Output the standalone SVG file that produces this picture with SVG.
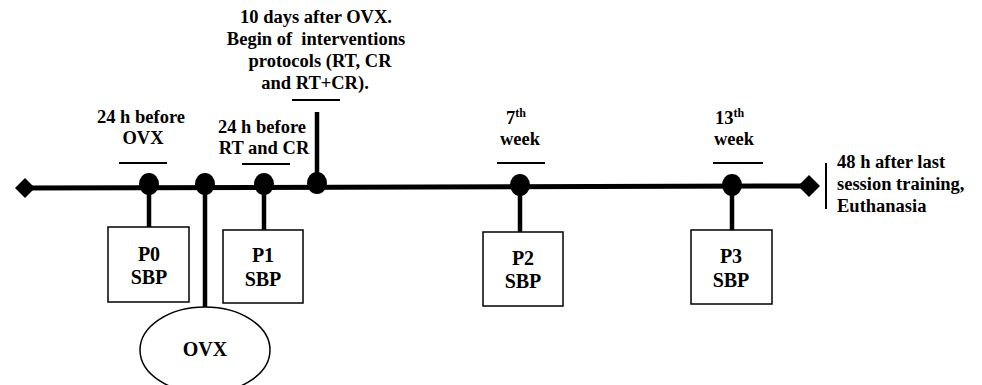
<svg xmlns="http://www.w3.org/2000/svg" width="982" height="385" viewBox="0 0 982 385">
<style>
text{font-family:"Liberation Serif","Times New Roman",serif;font-weight:bold;fill:#000}
.lbl{font-size:18.5px;text-anchor:middle}
.rt{font-size:18.5px}
.box{font-size:20px;text-anchor:middle}
.sup{font-size:12px}
.bar{stroke:#000;stroke-width:2}
.stem{stroke:#000;stroke-width:4.5}
.node{fill:#fff;stroke:#000;stroke-width:1.5}
.dot{fill:#000}
</style>
<rect width="982" height="385" fill="#fff"/>
<g id="connectors">
  <line x1="25" y1="188" x2="808" y2="186" stroke="#000" stroke-width="5"/>
  <polygon points="15,188 25,178 35,188 25,198" fill="#000"/>
  <polygon points="798,186 809,175 820,186 809,197" fill="#000"/>
  <line class="stem" x1="149" y1="184" x2="149" y2="227"/>
  <line class="stem" x1="205" y1="184" x2="205" y2="308"/>
  <line class="stem" x1="264" y1="184" x2="264" y2="230"/>
  <line class="stem" x1="317" y1="112" x2="317" y2="183"/>
  <line class="stem" x1="520" y1="185" x2="520" y2="232"/>
  <line class="stem" x1="732" y1="185" x2="732" y2="230"/>
  <ellipse class="dot" cx="149" cy="184" rx="10" ry="11"/>
  <ellipse class="dot" cx="205" cy="184" rx="10" ry="11"/>
  <ellipse class="dot" cx="264" cy="184" rx="10" ry="11"/>
  <ellipse class="dot" cx="317" cy="183" rx="10" ry="11"/>
  <ellipse class="dot" cx="520" cy="185" rx="10" ry="11"/>
  <ellipse class="dot" cx="732" cy="185" rx="10" ry="11"/>
  <line class="bar" x1="119" y1="163" x2="167" y2="163"/>
  <line class="bar" x1="242" y1="164" x2="290" y2="164"/>
  <line class="bar" x1="292" y1="100" x2="340" y2="100"/>
  <line class="bar" x1="497" y1="163" x2="545" y2="163"/>
  <line class="bar" x1="713" y1="163" x2="763" y2="163"/>
  <line class="bar" x1="826" y1="163" x2="826" y2="209"/>
</g>
<g id="lbl-p0time">
  <text class="lbl" x="141" y="123">24 h before</text>
  <text class="lbl" x="143" y="144">OVX</text>
</g>
<g id="lbl-p1time">
  <text class="lbl" x="262" y="133">24 h before</text>
  <text class="lbl" x="264" y="154">RT and CR</text>
</g>
<g id="lbl-begin">
  <text class="lbl" x="316" y="23">10 days after OVX.</text>
  <text class="lbl" x="316" y="45" xml:space="preserve">Begin of  interventions</text>
  <text class="lbl" x="320" y="67">protocols (RT, CR</text>
  <text class="lbl" x="315" y="89">and RT+CR).</text>
</g>
<g id="lbl-7th">
  <text class="rt" x="506" y="124">7<tspan class="sup" dy="-7">th</tspan></text>
  <text class="lbl" x="520" y="145">week</text>
</g>
<g id="lbl-13th">
  <text class="rt" x="715" y="124">13<tspan class="sup" dy="-7">th</tspan></text>
  <text class="lbl" x="734" y="145">week</text>
</g>
<g id="lbl-end">
  <text class="rt" x="837" y="168">48 h after last</text>
  <text class="rt" x="837" y="190">session training,</text>
  <text class="rt" x="837" y="212">Euthanasia</text>
</g>
<g id="P0">
  <rect class="node" x="108" y="227" width="81" height="75"/>
  <text class="box" x="149" y="261">P0</text>
  <text class="box" x="149" y="284">SBP</text>
</g>
<g id="P1">
  <rect class="node" x="223" y="230" width="80" height="73"/>
  <text class="box" x="263" y="262">P1</text>
  <text class="box" x="263" y="286">SBP</text>
</g>
<g id="P2">
  <rect class="node" x="483" y="232" width="80" height="74"/>
  <text class="box" x="523" y="265">P2</text>
  <text class="box" x="523" y="288">SBP</text>
</g>
<g id="P3">
  <rect class="node" x="691" y="230" width="81" height="74"/>
  <text class="box" x="731" y="263">P3</text>
  <text class="box" x="731" y="287">SBP</text>
</g>
<g id="OVX">
  <ellipse class="node" cx="205" cy="350" rx="65" ry="43"/>
  <text class="box" x="205" y="356">OVX</text>
</g>
</svg>
